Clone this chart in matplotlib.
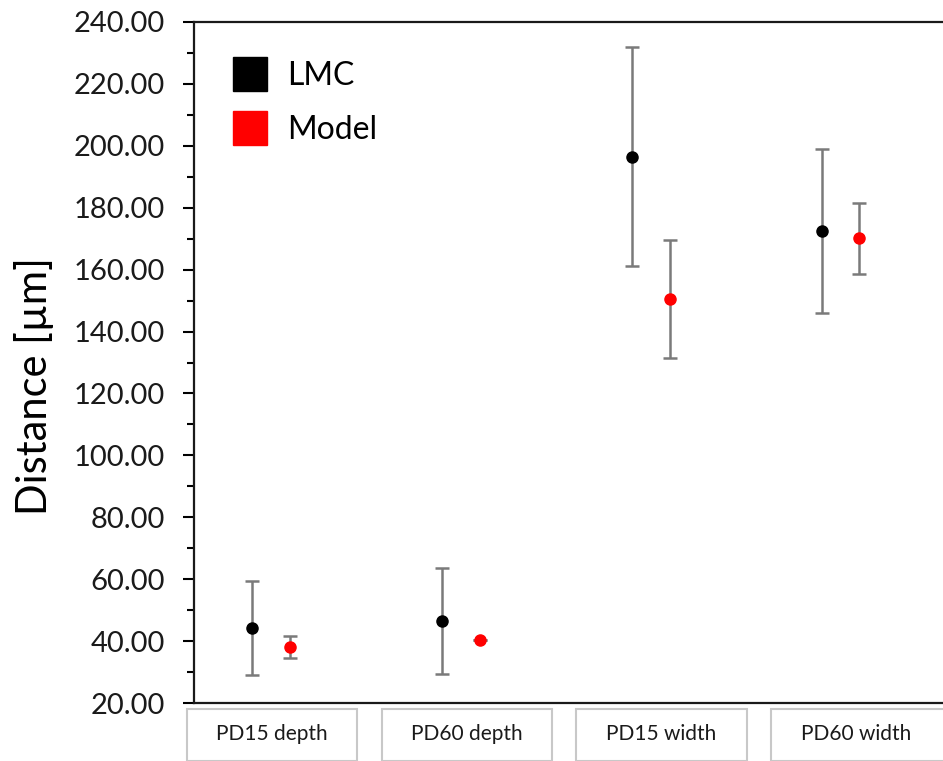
import matplotlib
matplotlib.use("Agg")
import matplotlib.pyplot as plt
from matplotlib.lines import Line2D
from matplotlib.patches import Rectangle

plt.rcParams['font.family'] = ['Lato', 'DejaVu Sans']

categories = ["PD15 depth", "PD60 depth", "PD15 width", "PD60 width"]
lmc_mean = [44.2, 46.5, 196.5, 172.4]
lmc_err = [15.1, 17.1, 35.3, 26.5]
model_mean = [38.1, 40.3, 150.4, 170.1]
model_err = [3.6, 0.0, 19.1, 11.5]
yticks = [20, 40, 60, 80, 100, 120, 140, 160, 180, 200, 220, 240]

W, H = 943, 761
fig = plt.figure(figsize=(W / 100, H / 100), dpi=100)
ax = fig.add_axes([194 / W, 58 / H, (W - 194) / W, 681 / H])

xs = list(range(1, len(categories) + 1))
off = 0.1
err_kw = dict(fmt='o', ms=8, ecolor='#7a7a7a', elinewidth=1.8,
              capsize=5, capthick=1.8, zorder=3)
for dx, mean, err, col in ((-off, lmc_mean, lmc_err, 'black'),
                           (off, model_mean, model_err, '#ff0000')):
    pts, caps, bars = ax.errorbar([x + dx for x in xs], mean, yerr=err,
                                  color=col, **err_kw)
    pts.set_zorder(5)  # keep the dots above bars and caps

ax.set_xlim(0.594, 4.54)
ax.set_ylim(20, 240)
ax.set_yticks(yticks)
ax.set_yticklabels([f"{v:.2f}" for v in yticks], fontsize=21, color='#1a1a1a')
ax.set_yticks([v + 10 for v in yticks[:-1]], minor=True)
ax.tick_params(axis='y', which='major', direction='out', length=8, width=1.5, pad=13)
ax.tick_params(axis='y', which='minor', direction='out', length=5, width=1.5)
ax.set_xticks([])
for side in ('left', 'bottom', 'top'):
    ax.spines[side].set_linewidth(1.6)
    ax.spines[side].set_color('#1a1a1a')
ax.spines['right'].set_visible(False)

ax.set_ylabel("Distance [µm]", fontsize=30)
ax.yaxis.set_label_coords(-140 / (W - 194), (703 - 386) / 681)

# category buttons below the axis
box_left = [187, 382, 576, 771]
box_w = [170, 170, 171, 180]
for lab, bl, bw in zip(categories, box_left, box_w):
    r = Rectangle((bl / W, 0), bw / W, 52 / H, transform=fig.transFigure,
                  facecolor='white', edgecolor='#c8c8c8', linewidth=1.5)
    fig.add_artist(r)
    fig.text((bl + 170 / 2) / W, 27 / H, lab, ha='center', va='center',
             fontsize=15, color='#1a1a1a')

handles = [Line2D([], [], marker='s', ls='', ms=24, color='black'),
           Line2D([], [], marker='s', ls='', ms=24, color='#ff0000')]
ax.legend(handles, ["LMC", "Model"], loc='upper left',
          bbox_to_anchor=(24 / (W - 194), 1 - 26 / 681), frameon=False,
          fontsize=23, labelspacing=0.75, handletextpad=0.55,
          borderaxespad=0, handlelength=1.2)

fig.savefig("out.png", dpi=100)
